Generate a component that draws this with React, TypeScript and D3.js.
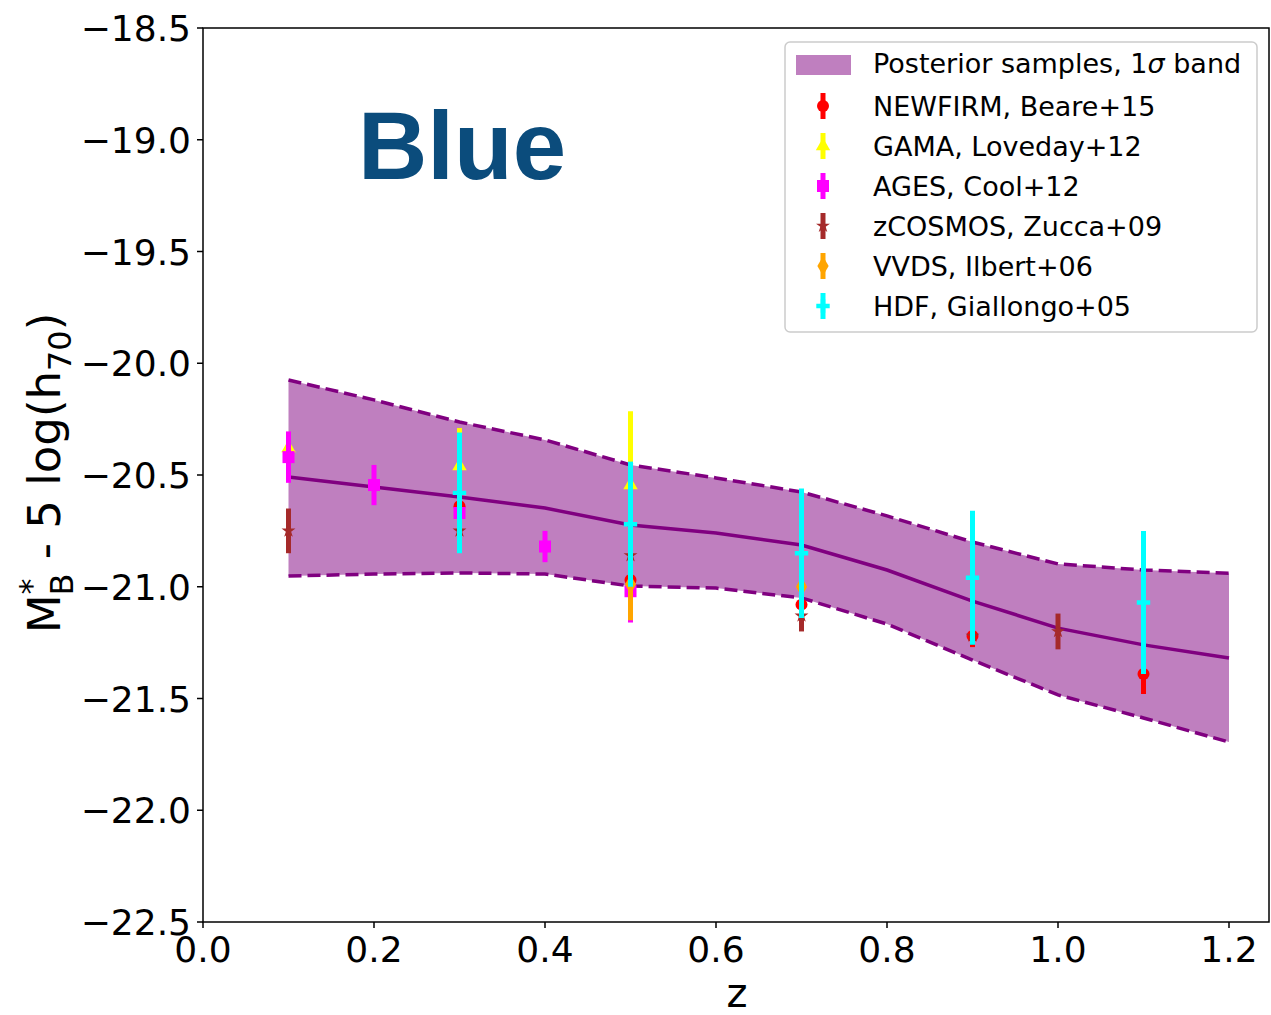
import React from "react";
import * as d3 from "d3";

const zGrid = [0.1, 0.2, 0.3, 0.4, 0.5, 0.6, 0.7, 0.8, 0.9, 1.0, 1.1, 1.2];
const bandUpper = [-20.075, -20.164, -20.263, -20.343, -20.455, -20.513, -20.576, -20.683, -20.8, -20.898, -20.925, -20.94];
const bandLower = [-20.952, -20.943, -20.938, -20.943, -20.997, -21.006, -21.05, -21.167, -21.328, -21.484, -21.587, -21.695];
const bandMedian = [-20.509, -20.554, -20.598, -20.648, -20.724, -20.76, -20.813, -20.925, -21.064, -21.185, -21.26, -21.319];

const newfirmZ = [0.3, 0.5, 0.7, 0.9, 1.1];
const newfirmM = [-20.64, -20.97, -21.08, -21.22, -21.39];
const newfirmE = [0.05, 0.05, 0.05, 0.05, 0.09];

const gamaZ = [0.1, 0.3, 0.5];
const gamaM = [-20.38, -20.46, -20.545];
const gamaE = [0.05, 0.17, 0.33];

const agesZ = [0.1, 0.2, 0.3, 0.4, 0.5];
const agesM = [-20.42, -20.545, -20.67, -20.82, -21.02];
const agesE = [0.115, 0.09, 0.05, 0.07, 0.14];

const zcosZ = [0.1, 0.3, 0.5, 0.7, 0.9, 1.0];
const zcosM = [-20.75, -20.75, -20.86, -21.13, -21.22, -21.2];
const zcosE = [0.1, 0.05, 0.05, 0.07, 0.04, 0.08];

const vvdsZ = [0.5, 0.7];
const vvdsM = [-20.99, -21.0];
const vvdsE = [0.16, 0.03];

const hdfZ = [0.3, 0.5, 0.7, 0.9, 1.1];
const hdfM = [-20.58, -20.72, -20.85, -20.96, -21.07];
const hdfE = [0.27, 0.28, 0.29, 0.3, 0.32];

const xTicks = [0.0, 0.2, 0.4, 0.6, 0.8, 1.0, 1.2];
const yTicks = [-18.5, -19.0, -19.5, -20.0, -20.5, -21.0, -21.5, -22.0, -22.5];

type Series = {
  label: string;
  color: string;
  marker: string;
  z: number[];
  m: number[];
  e: number[];
};

const series: Series[] = [
  { label: "NEWFIRM, Beare+15", color: "#ff0000", marker: "circle", z: newfirmZ, m: newfirmM, e: newfirmE },
  { label: "GAMA, Loveday+12", color: "#ffff00", marker: "triangle", z: gamaZ, m: gamaM, e: gamaE },
  { label: "AGES, Cool+12", color: "#ff00ff", marker: "square", z: agesZ, m: agesM, e: agesE },
  { label: "zCOSMOS, Zucca+09", color: "#a52a2a", marker: "star", z: zcosZ, m: zcosM, e: zcosE },
  { label: "VVDS, Ilbert+06", color: "#ffa500", marker: "diamond", z: vvdsZ, m: vvdsM, e: vvdsE },
  { label: "HDF, Giallongo+05", color: "#00ffff", marker: "plus", z: hdfZ, m: hdfM, e: hdfE },
];

const L = 203, R = 1269, T = 28, B = 922;
const FONT = "DejaVu Sans, sans-serif";

function Marker({ type, x, y, color }: { type: string; x: number; y: number; color: string }) {
  switch (type) {
    case "circle":
      return <circle cx={x} cy={y} r={6} fill={color} />;
    case "triangle":
      return <path d={d3.symbol(d3.symbolTriangle, 90)()!} transform={`translate(${x},${y})`} fill={color} />;
    case "square":
      return <rect x={x - 6} y={y - 6} width={12} height={12} fill={color} />;
    case "star":
      return <path d={d3.symbol(d3.symbolStar, 60)()!} transform={`translate(${x},${y})`} fill={color} />;
    case "diamond":
      return <path d={d3.symbol(d3.symbolDiamond, 110)()!} transform={`translate(${x},${y})`} fill={color} />;
    case "plus":
      return <path d={d3.symbol(d3.symbolCross, 100)()!} transform={`translate(${x},${y})`} fill={color} />;
  }
  return null;
}

export default function App() {
  const x = d3.scaleLinear().domain([0, 1.2]).range([L, 1229]);
  const y = d3.scaleLinear().domain([-18.5, -22.5]).range([T, B]);

  const area = d3
    .area<number>()
    .x((_, i) => x(zGrid[i]))
    .y0((_, i) => y(bandLower[i]))
    .y1((_, i) => y(bandUpper[i]));
  const line = (vals: number[]) =>
    d3.line<number>().x((_, i) => x(zGrid[i])).y((v) => y(v))(vals)!;

  const legendRows = [63, 106, 146, 186, 226, 266, 306];

  return (
    <svg width={1271} height={1015} style={{ position: "absolute", left: 0, top: 0 }} fontFamily={FONT}>
      <rect x={0} y={0} width={1271} height={1015} fill="white" />
      <path d={area(zGrid)!} fill="#bf7fbf" />
      <path d={line(bandUpper)} fill="none" stroke="#800080" strokeWidth={3.5} strokeDasharray="13,6" />
      <path d={line(bandLower)} fill="none" stroke="#800080" strokeWidth={3.5} strokeDasharray="13,6" />
      <path d={line(bandMedian)} fill="none" stroke="#800080" strokeWidth={3.5} />

      <text x={462} y={179} fontSize={96} fontWeight="bold" fill="#0b4c7c" textAnchor="middle"
        fontFamily="Liberation Sans, Arial, sans-serif">Blue</text>

      {series.map((s) => (
        <g key={s.label}>
          {s.z.map((zv, i) => (
            <g key={i}>
              <line x1={x(zv)} x2={x(zv)} y1={y(s.m[i] + s.e[i])} y2={y(s.m[i] - s.e[i])} stroke={s.color} strokeWidth={5} />
              <Marker type={s.marker} x={x(zv)} y={y(s.m[i])} color={s.color} />
            </g>
          ))}
        </g>
      ))}

      {/* frame */}
      <rect x={L} y={T} width={R - L} height={B - T} fill="none" stroke="black" strokeWidth={1.5} />

      {xTicks.map((t) => (
        <g key={t}>
          <line x1={x(t)} x2={x(t)} y1={B} y2={B + 6} stroke="black" strokeWidth={1.5} />
          <text x={x(t)} y={B + 40} fontSize={36} textAnchor="middle">{t.toFixed(1)}</text>
        </g>
      ))}
      {yTicks.map((t) => (
        <g key={t}>
          <line x1={L - 6} x2={L} y1={y(t)} y2={y(t)} stroke="black" strokeWidth={1.5} />
          <text x={L - 12} y={y(t) + 13} fontSize={36} textAnchor="end">{"\u2212" + Math.abs(t).toFixed(1)}</text>
        </g>
      ))}

      <text x={737} y={1007} fontSize={40} textAnchor="middle">z</text>
      <text transform={`translate(60,473) rotate(-90)`} fontSize={45} textAnchor="middle">
        <tspan>M</tspan>
        <tspan fontSize={32} dy={-18}>*</tspan>
        <tspan fontSize={32} dx={-17} dy={31}>B</tspan>
        <tspan dy={-13}>{" - 5 log(h"}</tspan>
        <tspan fontSize={32} dy={11}>70</tspan>
        <tspan dy={-11}>)</tspan>
      </text>

      {/* legend */}
      <rect x={785} y={42} width={472} height={290} rx={5} fill="white" fillOpacity={0.8} stroke="#cccccc" strokeWidth={1.5} />
      <rect x={796} y={55} width={55} height={20} fill="#bf7fbf" />
      <text x={873} y={legendRows[0] + 10} fontSize={27}>
        <tspan>Posterior samples, 1</tspan>
        <tspan fontStyle="italic">σ</tspan>
        <tspan> band</tspan>
      </text>
      {series.map((s, i) => {
        const cy = legendRows[i + 1];
        return (
          <g key={s.label}>
            <line x1={823} x2={823} y1={cy - 13} y2={cy + 13} stroke={s.color} strokeWidth={5} />
            <Marker type={s.marker} x={823} y={cy} color={s.color} />
            <text x={873} y={cy + 10} fontSize={27}>{s.label}</text>
          </g>
        );
      })}
    </svg>
  );
}
